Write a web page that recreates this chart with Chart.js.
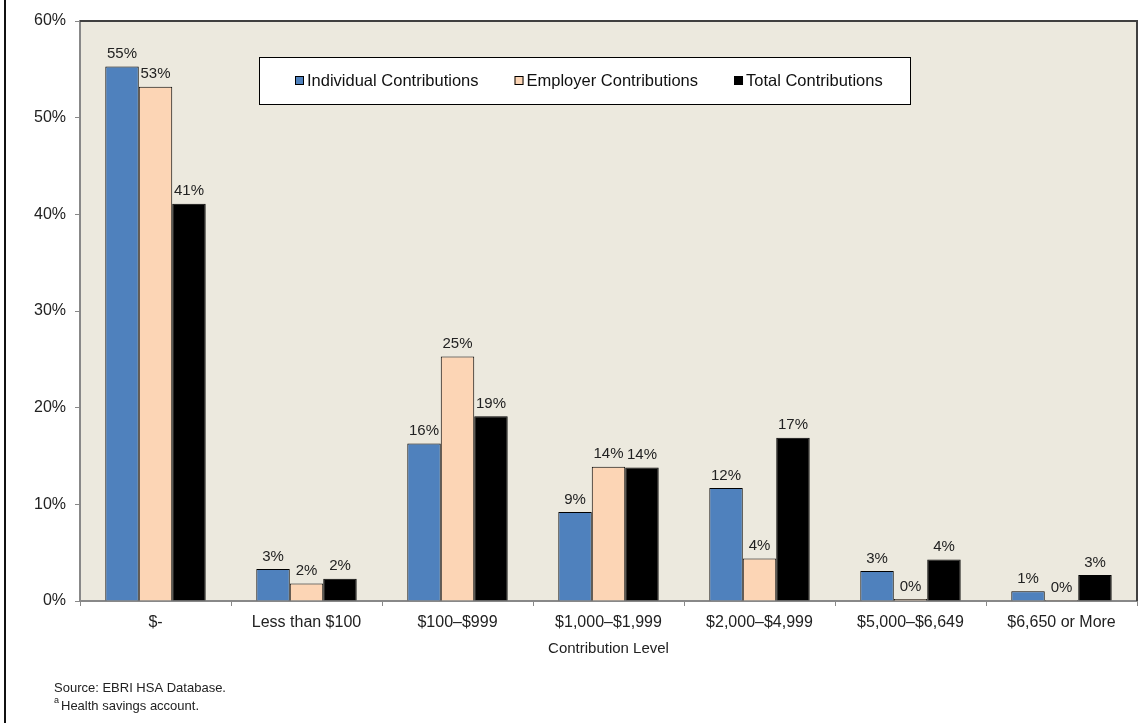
<!DOCTYPE html>
<html>
<head>
<meta charset="utf-8">
<script src="https://cdn.jsdelivr.net/npm/chart.js@4.4.0/dist/chart.umd.min.js"></script>
<style>
  html, body { margin: 0; padding: 0; background: #fff; }
  #wrap { width: 1146px; height: 723px; position: relative; }
</style>
</head>
<body>
<div id="wrap"><canvas id="chart" width="1146" height="723"></canvas></div>
<script>
const categories = ['$-', 'Less than $100', '$100\u2013$999', '$1,000\u2013$1,999', '$2,000\u2013$4,999', '$5,000\u2013$6,649', '$6,650 or More']
const individual = [55.3, 3.3, 16.3, 9.2, 11.7, 3.1, 1.0]
const employer = [53.2, 1.8, 25.3, 13.9, 4.4, 0.2, 0.1]
const total = [41.1, 2.3, 19.1, 13.8, 16.9, 4.3, 2.7]
const yTicks = [0, 10, 20, 30, 40, 50, 60]
const footnotes = ['Source: EBRI HSA Database.', 'Health savings account.']

const FONT = "'Liberation Sans', Arial, sans-serif"

// beige plot area, dark top/right edge and the frame line at the left
const plotFrame = {
    id: 'plotFrame',
    beforeDraw(chart) {
        const { ctx, chartArea: a } = chart
        ctx.save()
        ctx.fillStyle = '#ECE9DE'
        ctx.fillRect(a.left, a.top, a.right - a.left, a.bottom - a.top)
        ctx.restore()
    },
    afterDraw(chart) {
        const { ctx, chartArea: a } = chart
        ctx.save()
        ctx.strokeStyle = '#404040'
        ctx.lineWidth = 2
        ctx.beginPath()
        ctx.moveTo(a.left, a.top)
        ctx.lineTo(a.right, a.top)
        ctx.lineTo(a.right, a.bottom)
        ctx.stroke()
        ctx.fillStyle = '#111'
        ctx.fillRect(4, 0, 2, chart.height)
        ctx.restore()
    }
}

// percentage above every bar
const valueLabels = {
    id: 'valueLabels',
    afterDatasetsDraw(chart) {
        const { ctx } = chart
        ctx.save()
        ctx.font = '15px ' + FONT
        ctx.fillStyle = '#222'
        ctx.textAlign = 'center'
        ctx.textBaseline = 'bottom'
        chart.data.datasets.forEach((ds, i) => {
            chart.getDatasetMeta(i).data.forEach((bar, j) => {
                ctx.fillText(Math.round(ds.data[j]) + '%', bar.x, bar.y - 5)
            })
        })
        ctx.restore()
    }
}

// boxed legend sitting inside the plot
const boxLegend = {
    id: 'boxLegend',
    afterDraw(chart) {
        const { ctx } = chart
        const box = { x: 259, y: 57, w: 651, h: 47 }
        ctx.save()
        ctx.fillStyle = '#fff'
        ctx.fillRect(box.x, box.y, box.w, box.h)
        ctx.strokeStyle = '#000'
        ctx.lineWidth = 1
        ctx.strokeRect(box.x + 0.5, box.y + 0.5, box.w, box.h)

        ctx.font = '16.5px ' + FONT
        ctx.textBaseline = 'middle'
        const sq = 9, gap = 3, itemGap = 36
        let x = 295
        const cy = box.y + box.h / 2
        chart.data.datasets.forEach(ds => {
            ctx.fillStyle = ds.backgroundColor
            ctx.fillRect(x, cy - sq / 2, sq, sq)
            ctx.strokeStyle = '#000'
            ctx.strokeRect(x + 0.5, cy - sq / 2 + 0.5, sq - 1, sq - 1)
            ctx.fillStyle = '#111'
            ctx.textAlign = 'left'
            ctx.fillText(ds.label, x + sq + gap, cy + 1)
            x += sq + gap + ctx.measureText(ds.label).width + itemGap
        })
        ctx.restore()
    }
}

// source line and footnote under the chart
const footer = {
    id: 'footer',
    afterDraw(chart) {
        const { ctx } = chart
        ctx.save()
        ctx.fillStyle = '#222'
        ctx.textBaseline = 'middle'
        ctx.textAlign = 'left'
        ctx.font = '13px ' + FONT
        ctx.fillText(footnotes[0], 54, 688)
        ctx.font = '9px ' + FONT
        ctx.fillText('a', 54, 701)
        ctx.font = '13px ' + FONT
        ctx.fillText(footnotes[1], 61, 706)
        ctx.restore()
    }
}

new Chart(document.getElementById('chart'), {
    type: 'bar',
    data: {
        labels: categories,
        datasets: [
            { label: 'Individual Contributions', data: individual, backgroundColor: '#4F81BD' },
            { label: 'Employer Contributions', data: employer, backgroundColor: '#FCD5B5' },
            { label: 'Total Contributions', data: total, backgroundColor: '#000000' },
        ].map(ds => ({ ...ds, borderColor: '#000', borderWidth: 1, barPercentage: 1, categoryPercentage: 0.665 })),
    },
    options: {
        responsive: false,
        animation: false,
        devicePixelRatio: 1,
        layout: { padding: { left: 0, top: 21, right: 9, bottom: 62 } },
        scales: {
            x: {
                afterFit: (s) => { s.height = 60 },
                grid: { drawOnChartArea: false, tickLength: 5, color: '#888', offset: true },
                border: { color: '#888', width: 2 },
                ticks: { color: '#222', font: { family: FONT, size: 16 }, padding: 7, maxRotation: 0, autoSkip: false },
                title: { display: true, text: 'Contribution Level', color: '#222', font: { family: FONT, size: 15 }, padding: { top: 0, bottom: 3 } },
            },
            y: {
                min: 0,
                max: 60,
                afterFit: (s) => { s.width = 80 },
                afterBuildTicks: (s) => { s.ticks = yTicks.map(v => ({ value: v })) },
                grid: { drawOnChartArea: false, tickLength: 5, color: '#888' },
                border: { color: '#888', width: 2 },
                ticks: { color: '#222', font: { family: FONT, size: 16 }, padding: 9, callback: (v) => v + '%' },
            },
        },
        plugins: {
            legend: { display: false },
            tooltip: { enabled: false },
        },
    },
    plugins: [plotFrame, valueLabels, boxLegend, footer],
})
</script>
</body>
</html>
